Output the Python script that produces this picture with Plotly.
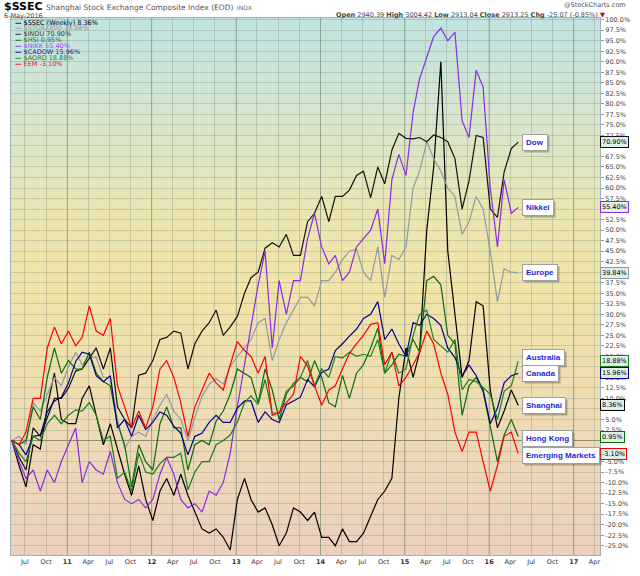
import pandas as pd
import plotly.graph_objects as go

# weekly perf chart, sampled roughly monthly (May 2010 -> May 2016), % change from start
dates = pd.date_range("2010-05-01", periods=73, freq="MS") + pd.Timedelta(days=5)

ssec = [0, -6, -11, -1, -2, 8, 16, 5, 4, 4,
        10, 13, 6, -1, 4, -2, -8, -13, -6, -14,
        -19, -12, -9, -13, -8, -13, -17, -21, -22, -21,
        -23, -26, -14, -9, -14, -17, -16, -20, -25, -22,
        -16, -17, -19, -17, -23, -23, -25, -21, -24, -24,
        -22, -18, -14, -12, -9, 10, 22, 15, 21, 50,
        65, 90, 45, 30, 15, 19, 33, 32, 12, 3,
        7, 12, 8.36]
stoxx = [0, 1, -1, 9, 7, 11, 15, 13, 17.6, 21,
         18, 20, 19.7, 15, 15, 5, -2, 1, 2, 1,
         5, 8.4, 11, 7, 5, 0, 5.5, 10.5, 13.4, 14.7,
         13.4, 17.6, 20, 22, 24, 28, 29, 19, 24, 28,
         31, 34, 34, 32, 38, 38, 40, 43, 45, 45.5,
         40, 38, 46, 34, 44, 43, 46, 60, 64, 71,
         67, 64, 60, 58, 49, 52, 58, 55, 45, 33,
         40.8, 40, 39.84]
indu = [0, -4, -7, 3, 1, 5.5, 10, 10, 12.5, 16.5,
        17, 19.5, 22, 17, 22, 8, 5, 3, 15.5, 16,
        19, 24, 24.5, 26, 25.5, 17, 23, 26, 28, 31,
        25, 27, 29.5, 35, 38.7, 40, 45.7, 47, 46, 49,
        44, 44, 52, 54, 58, 52, 58, 58, 59.5, 63,
        64, 57.7, 65, 61, 69, 73, 71.8, 71.7, 72, 71,
        72.6, 72, 71, 67, 55, 61.7, 72.5, 72, 55, 53,
        63.8, 69.4, 70.9]
hsi = [0, -1, 0, 8, 5, 15, 22, 16, 19, 17,
       17, 21, 16, 14, 13, 4, -1, -11, -1, -5,
       -7, 4, 8, 3, 3, -7, -1, 0, -1, 4.6,
       7, 11, 17, 16, 15, 9, 17, 12, 5, 11,
       13.6, 15, 14, 19, 15, 9, 8, 15.5, 10, 16,
       18, 22, 26.7, 16, 18, 20.5, 20, 24, 21, 38,
       39, 37, 25, 23, 6, 13, 15, 11.6, 3, -5,
       1.3, 5, 0.95]
nikk = [0, -5, -9, -7, -12, -7, -10, -5, -1, 3,
        -10, -5, -7, -8, -2.6, -10, -14, -15, -14, -16,
        -14, -8, -4, -8, -14, -16, -15, -17, -12, -13,
        -10, -3, 8, 18, 28, 37, 45, 22, 38, 30,
        38, 38, 48, 54, 46, 42, 44, 38, 40, 46,
        48, 50, 55, 42, 62, 68, 63, 78, 86, 91,
        96, 98, 95, 97, 76, 72, 88, 84, 60, 46,
        62, 54, 55.4]
cadow = [0, -1, -3.4, 1, 1.3, 6.8, 9.4, 10.3, 13.7, 18.8,
         21, 20.5, 15.4, 14, 15.4, 3, 5, 1, 6, 2.6,
         4.3, 6.8, 6, 3.4, 1.7, -3.4, 1, 1.7, 4.3, 6,
         4.3, 4.3, 7.7, 9.4, 9.4, 4.3, 6.8, 5, 4.3, 8.5,
         9.4, 10.3, 14.5, 12.8, 16.2, 17, 21.4, 23, 24.8, 26.5,
         29, 30, 33, 24, 26.5, 23, 20, 28, 27.4, 30,
         29, 27.4, 22, 19.7, 15.4, 17.9, 15.4, 12, 4, 7.7,
         13.7, 15.4, 15.96]
aord = [0, -3, -5, 1, 0, 4, 6, 4, 6, 7.3,
        7, 9, 6, 0, 1, -9, -7.5, -12, -3, -7.5,
        -8, -5.5, -4, -4, -3, -11.7, -7.5, -5, -5, -1,
        0, 1.3, 4.4, 9, 10.6, 8.6, 14.5, 6.6, 6.4, 11.7,
        13, 15, 19, 13, 17, 15, 20, 19.6, 21, 20,
        20.5, 20, 24, 16, 21, 16, 17, 25, 30, 31,
        24, 22.5, 21, 24, 12, 14.5, 14, 12.6, 11, 5,
        11.7, 13, 18.88]
eem = [0, -1, 2, 10, 10, 22, 27, 23, 26, 22.5,
       24.5, 32, 26, 25, 29, 13, 8, 3, 7, 3,
       8, 17, 19, 15, 9, 1, 8, 12, 16, 13.7,
       12, 18, 23.5, 21.4, 20, 16, 20, 6, 6.7, 9,
       11, 20, 17.7, 13, 8.4, 12, 13, 17, 20.7, 23,
       25, 27.6, 28, 18, 21, 13, 15, 18, 21, 26,
       23, 16, 11, 2, -2.6, 2, 2, -5, -12, -6,
       1, 2, -3.1]

symbols = ["$SSEC (Weekly)", "$STOXX600", "$INDU", "$HSI", "$NIKK", "$CADOW", "$AORD", "EEM"]
values = [ssec, stoxx, indu, hsi, nikk, cadow, aord, eem]
colors = ["#000000", "#8d9aa6", "#111111", "#0b6b0b", "#8a2be2", "#00008b", "#1a7f1a", "#ff0000"]
legend_colors = ["#000000", "#9a9a9a", "#333333", "#2e6b2e", "#9b4dff", "#1a1a99", "#2e7d2e", "#e02020"]

# right-hand name tags: label, series index, pixel nudge
tag_names = ["Dow", "Nikkei", "Europe", "Australia", "Canada", "Shanghai", "Hong Kong", "Emerging Markets"]
tag_series = [2, 4, 1, 6, 5, 0, 3, 7]
tag_nudge = [0, 0, 0, 4, 0, 0, -2, -2]

quarters = pd.date_range("2010-07-01", "2017-04-01", freq="QS-JAN")
quarter_text = [f"<b>{d.strftime('%y')}</b>" if d.month == 1 else d.strftime("%b") for d in quarters]
years = pd.date_range("2011-01-01", "2017-01-01", freq="YS")

ytick_vals = [v / 10 for v in range(-250, 1001, 25)]
ytick_text = [f"{v:.1f}%" for v in ytick_vals]

FONT = "Verdana, DejaVu Sans, sans-serif"
TAG_FONT = "Liberation Sans, Arial, sans-serif"

fig = go.Figure()

for name, vals, col in zip(symbols, values, colors):
    fig.add_trace(go.Scatter(
        x=dates, y=vals, mode="lines", name=name,
        line=dict(color=col, width=1.2),
        showlegend=False, hoverinfo="skip"
    ))

# background gradient: teal -> yellow -> tan
stops = [(0.0, (236, 208, 190)), (0.25, (238, 219, 180)), (0.5, (240, 228, 168)),
         (0.64, (234, 230, 178)), (0.82, (214, 229, 206)), (1.0, (192, 227, 225))]


def grad(f):
    for (f0, c0), (f1, c1) in zip(stops[:-1], stops[1:]):
        if f0 <= f <= f1:
            t = (f - f0) / (f1 - f0)
            return "rgb(%d,%d,%d)" % tuple(round(a + (b - a) * t) for a, b in zip(c0, c1))
    return "rgb(%d,%d,%d)" % stops[-1][1]


shapes = []
n = 110
for i in range(n):
    shapes.append(dict(type="rect", xref="paper", yref="paper", x0=0, x1=1,
                       y0=i / n, y1=(i + 1) / n + 0.002, layer="below",
                       line=dict(width=0), fillcolor=grad((i + 0.5) / n)))
for d in years:
    shapes.append(dict(type="line", xref="x", yref="paper", x0=d, x1=d, y0=0, y1=1,
                       layer="below", line=dict(color="rgba(110,130,110,0.5)", width=1)))

annotations = []

# title block
annotations.append(dict(
    xref="paper", yref="paper", x=-0.016, y=1.021, xanchor="left", yanchor="middle",
    showarrow=False, font=dict(family=FONT, size=11, color="#000"),
    text="<b>$SSEC</b> <span style='font-size:7.5px;color:#555'>Shanghai Stock Exchange Composite Index (EOD)</span>"
         " <span style='font-size:6px;color:#666'>INDX</span>"))
annotations.append(dict(
    xref="paper", yref="paper", x=-0.016, y=1.004, xanchor="left", yanchor="middle",
    showarrow=False, font=dict(family=FONT, size=6.5, color="#444"), text="6-May-2016"))
annotations.append(dict(
    xref="paper", yref="paper", x=1.047, y=1.024, xanchor="right", yanchor="middle",
    showarrow=False, font=dict(family=FONT, size=6.5, color="#555"), text="@StockCharts.com"))
annotations.append(dict(
    xref="paper", yref="paper", x=1.012, y=1.005, xanchor="right", yanchor="middle",
    showarrow=False, font=dict(family=FONT, size=6.5, color="#444"),
    text="<b>Open</b> 2940.39 <b>High</b> 3004.42 <b>Low</b> 2913.04 <b>Close</b> 2913.25 "
         "<b>Chg</b> -25.07 (-0.85%) <span style='color:#d00000'>▼</span>"))

# legend block (top-left inside the plot)
for i, (name, vals, lc) in enumerate(zip(symbols, values, legend_colors)):
    annotations.append(dict(
        xref="paper", yref="paper", x=0.004, y=1 - (4.7 + 6 * i) / 548,
        xanchor="left", yanchor="middle", showarrow=False,
        font=dict(family=FONT, size=6.5, color=lc),
        text=f"<span style='color:{colors[i]}'><b>—</b></span> {name} {vals[-1]:.2f}%"))

# end value badges on the right axis
for vals, col in zip(values, colors):
    annotations.append(dict(
        xref="paper", yref="y", x=1.0, y=vals[-1], xanchor="left", yanchor="middle",
        showarrow=False, font=dict(family=FONT, size=6.5, color="#000"),
        text=f"{vals[-1]:.2f}%", bgcolor="#dcefea", bordercolor=col, borderwidth=1, borderpad=1))

# name tags with drop shadow
for label, si, dy in zip(tag_names, tag_series, tag_nudge):
    yv = values[si][-1]
    common = dict(xref="paper", yref="y", x=0.868, y=yv, xanchor="left", yanchor="middle",
                  showarrow=False, borderpad=3, text=f"<b>{label}</b>")
    annotations.append(dict(common, xshift=2, yshift=dy - 2,
                            font=dict(family=TAG_FONT, size=8, color="rgba(0,0,0,0)"),
                            bgcolor="rgba(90,90,90,0.45)", borderwidth=1,
                            bordercolor="rgba(0,0,0,0)"))
    annotations.append(dict(common, yshift=dy,
                            font=dict(family=TAG_FONT, size=8, color="#1f1fd8"),
                            bgcolor="#ffffff", bordercolor="#a0a0a0", borderwidth=1))

fig.update_layout(
    width=640, height=576,
    margin=dict(l=11, r=36, t=18, b=10),
    paper_bgcolor="white",
    plot_bgcolor="rgba(0,0,0,0)",
    shapes=shapes,
    annotations=annotations,
    font=dict(family=FONT, size=7, color="#333"),
    xaxis=dict(
        range=["2010-05-02", "2017-04-25"],
        tickmode="array", tickvals=quarters, ticktext=quarter_text,
        showgrid=True, gridcolor="rgba(120,140,120,0.32)", gridwidth=1,
        tickfont=dict(size=6.5, color="#333"), ticks="", ticklabelstandoff=0,
        showline=True, linecolor="#9fb3bd", mirror=True, zeroline=False
    ),
    yaxis=dict(
        range=[-27.2, 100.4], side="right",
        tickmode="array", tickvals=ytick_vals, ticktext=ytick_text,
        showgrid=True, gridcolor="rgba(120,140,120,0.32)", gridwidth=1,
        tickfont=dict(size=6.5, color="#444"), ticks="outside", ticklen=3, tickcolor="#999",
        showline=True, linecolor="#9fb3bd", mirror=True,
        zeroline=True, zerolinecolor="#8c8c70", zerolinewidth=1
    ),
)

# page body has a default 8px margin; drop it so the figure fills the window
fig.write_html("out.html", config={"displayModeBar": False},
               post_script="document.body.style.margin='0';")
